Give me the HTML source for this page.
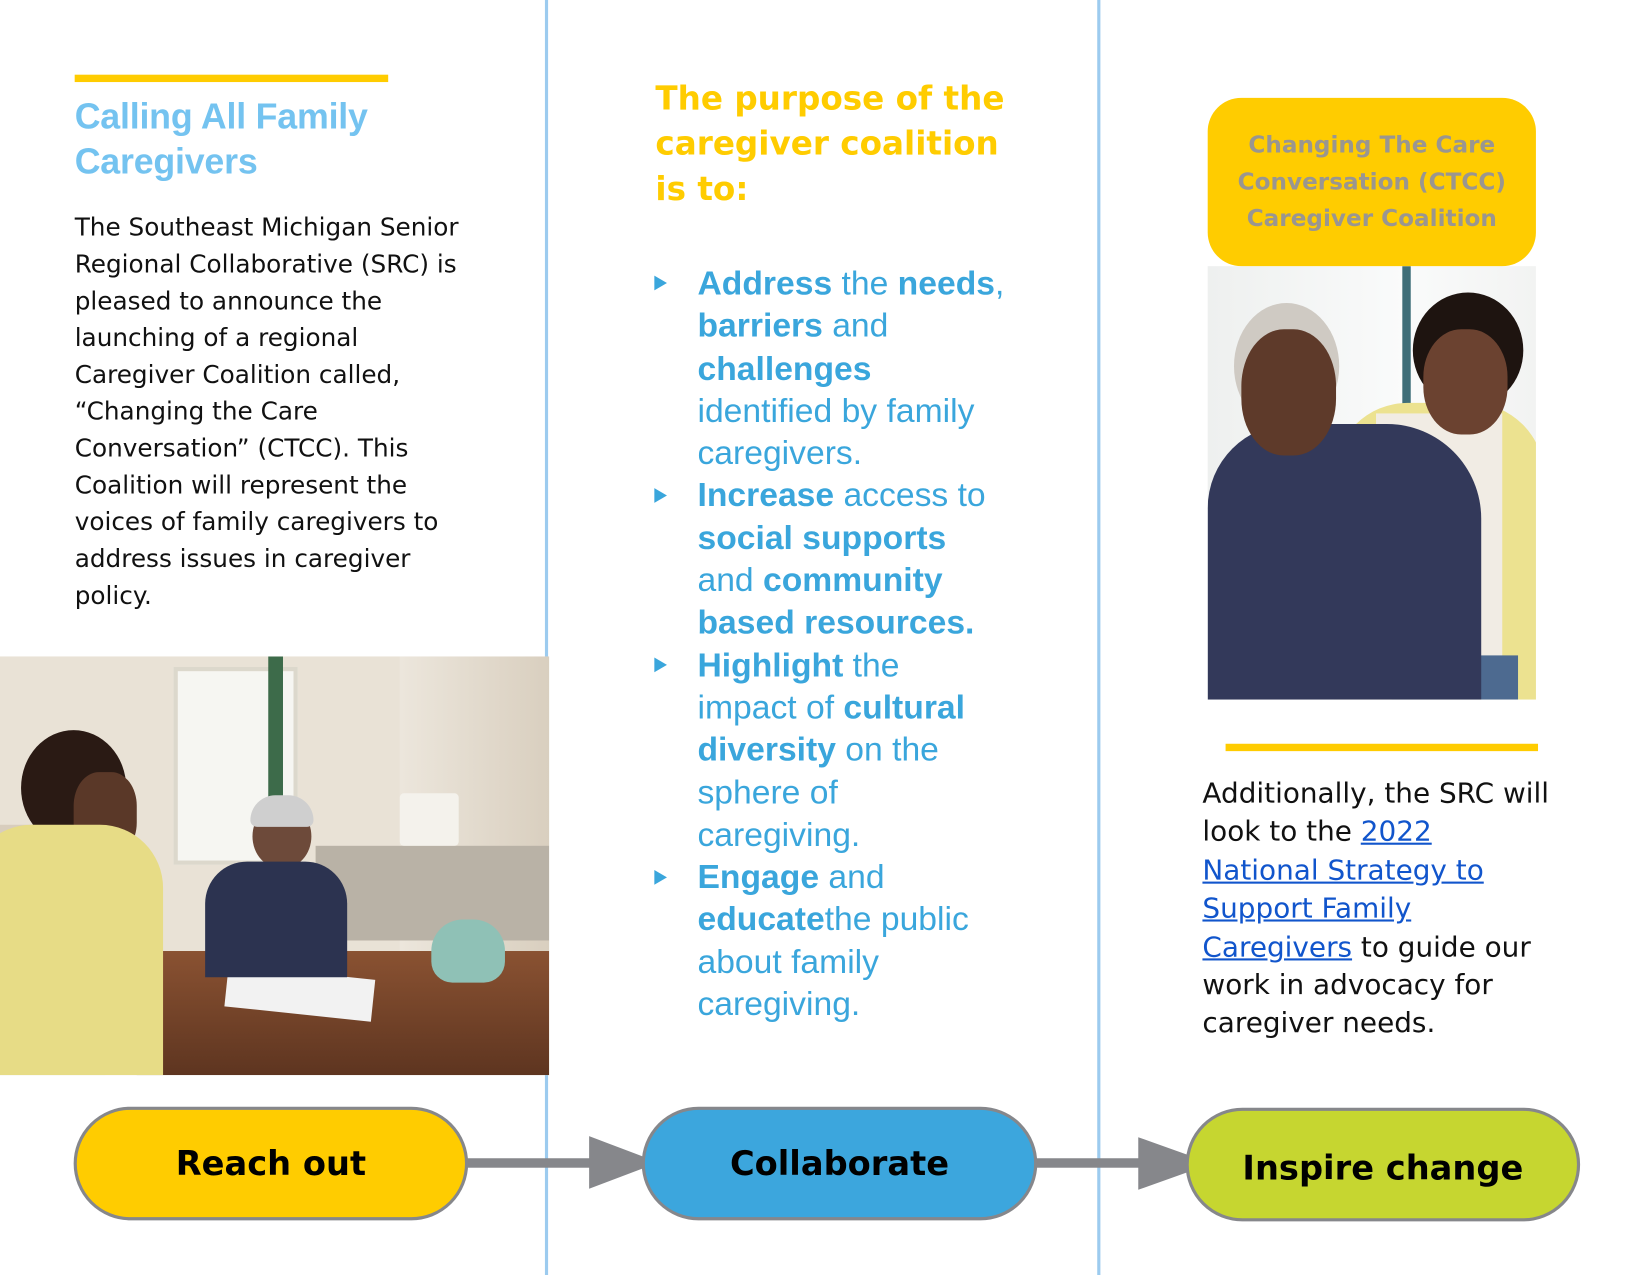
<!DOCTYPE html>
<html><head><meta charset="utf-8"><style>
html,body{margin:0;padding:0;background:#fff;width:1650px;height:1275px;overflow:hidden}
#w{position:absolute;left:0;top:0;width:1560px;height:1212px;transform:scale(1.052,1.052);transform-origin:0 0}
.a{position:absolute}
.vl{position:absolute;top:0;width:3px;height:1212px;background:#9ccbef}
.body{font-family:"DejaVu Sans",sans-serif;font-size:23.5px;line-height:35px;color:#111;white-space:nowrap}
.bl{font-family:"Liberation Sans",Arial,sans-serif;font-size:32px;line-height:40.3px;color:#3aa6dc;white-space:nowrap}
.bl b{font-weight:bold}
.tri{position:absolute;width:0;height:0;border-top:7px solid transparent;border-bottom:7px solid transparent;border-left:12px solid #3aa6dc}
.pill{position:absolute;border:3px solid #86878b;border-radius:54px;box-sizing:border-box;display:flex;align-items:center;justify-content:center;font-family:"DejaVu Sans",sans-serif;font-weight:bold;font-size:32px;color:#000}
a{color:#1155cc;text-decoration:underline}
</style></head><body><div id="w">
<div class="vl" style="left:518px"></div>
<div class="vl" style="left:1043px"></div>

<div class="a" style="left:71px;top:71px;width:298px;height:7px;background:#ffcc00"></div>
<div class="a" style="left:71px;top:90px;font-family:'Liberation Sans',sans-serif;font-weight:bold;font-size:34px;line-height:43px;color:#74c3f0;white-space:nowrap;letter-spacing:-0.2px">Calling All Family<br>Caregivers</div>
<div class="a body" style="left:71px;top:199px">The Southeast Michigan Senior<br>Regional Collaborative (SRC) is<br>pleased to announce the<br>launching of a regional<br>Caregiver Coalition called,<br>“Changing the Care<br>Conversation” (CTCC). This<br>Coalition will represent the<br>voices of family caregivers to<br>address issues in caregiver<br>policy.</div>

<div class="a" style="left:0;top:624px;width:522px;height:398px;overflow:hidden;background:#e9e2d6">
  <div class="a" style="left:165px;top:10px;width:110px;height:180px;background:#f6f6f2;border:4px solid #dcd8cc"></div>
  <div class="a" style="left:255px;top:0;width:14px;height:200px;background:#3d6b4a"></div>
  <div class="a" style="left:380px;top:0;width:142px;height:398px;background:linear-gradient(90deg,#ece6dc,#d9cfbf)"></div>
  <div class="a" style="left:300px;top:180px;width:222px;height:90px;background:#b9b2a6"></div>
  <div class="a" style="left:380px;top:130px;width:56px;height:50px;background:#f4f2ec;border-radius:4px"></div>
  <div class="a" style="left:0;top:160px;width:100px;height:238px;background:#d8cdbd"></div>
  <div class="a" style="left:130px;top:280px;width:392px;height:118px;background:linear-gradient(180deg,#8a5232,#5e3520)"></div>
  <div class="a" style="left:215px;top:300px;width:140px;height:40px;background:#f2f2f2;transform:rotate(6deg)"></div>
  <div class="a" style="left:240px;top:140px;width:56px;height:62px;background:#6d4a3a;border-radius:50%"></div>
  <div class="a" style="left:238px;top:132px;width:60px;height:30px;background:#cfcfcf;border-radius:30px 30px 8px 8px"></div>
  <div class="a" style="left:195px;top:195px;width:135px;height:110px;background:#2c3350;border-radius:40px 40px 0 0"></div>
  <div class="a" style="left:410px;top:250px;width:70px;height:60px;background:#8fc1b6;border-radius:30px 30px 20px 20px"></div>
  <div class="a" style="left:20px;top:70px;width:100px;height:110px;background:#2a1a14;border-radius:50%"></div>
  <div class="a" style="left:70px;top:110px;width:60px;height:80px;background:#5a3828;border-radius:40%"></div>
  <div class="a" style="left:-30px;top:160px;width:185px;height:238px;background:#e7dc86;border-radius:60px 60px 0 0"></div>
</div>

<div class="a" style="left:623px;top:73px;font-family:'DejaVu Sans',sans-serif;font-weight:bold;font-size:31px;line-height:43px;color:#ffcc00;white-space:nowrap">The purpose of the<br>caregiver coalition<br>is to:</div>
<div class="tri" style="left:622px;top:262px"></div>
<div class="tri" style="left:622px;top:464px"></div>
<div class="tri" style="left:622px;top:625px"></div>
<div class="tri" style="left:622px;top:827px"></div>
<div class="a bl" style="left:663px;top:249px"><b>Address</b> the <b>needs</b>,<br><b>barriers</b> and<br><b>challenges</b><br>identified by family<br>caregivers.<br><b>Increase</b> access to<br><b>social supports</b><br>and <b>community</b><br><b>based resources.</b><br><b>Highlight</b> the<br>impact of <b>cultural</b><br><b>diversity</b> on the<br>sphere of<br>caregiving.<br><b>Engage</b> and<br><b>educate</b>the public<br>about family<br>caregiving.</div>

<div class="a" style="left:1148px;top:253px;width:312px;height:412px;overflow:hidden;background:linear-gradient(90deg,#eef0ef,#fafbfb 60%,#f2f3f2)">
  <div class="a" style="left:185px;top:0;width:8px;height:150px;background:#3f6e78"></div>
  <div class="a" style="left:120px;top:130px;width:200px;height:282px;background:#ece290;border-radius:70px 70px 0 0"></div>
  <div class="a" style="left:160px;top:140px;width:120px;height:272px;background:#f1ece4"></div>
  <div class="a" style="left:195px;top:25px;width:105px;height:110px;background:#1e1410;border-radius:50%"></div>
  <div class="a" style="left:205px;top:60px;width:80px;height:100px;background:#6b4230;border-radius:45%"></div>
  <div class="a" style="left:175px;top:370px;width:120px;height:42px;background:#4d6a90"></div>
  <div class="a" style="left:0;top:150px;width:260px;height:262px;background:#33395a;border-radius:80px 90px 0 0"></div>
  <div class="a" style="left:25px;top:35px;width:100px;height:120px;background:#cfcac3;border-radius:50%"></div>
  <div class="a" style="left:32px;top:60px;width:90px;height:120px;background:#5e3a2a;border-radius:45%"></div>
</div>
<div class="a" style="left:1148px;top:93px;width:312px;height:160px;background:#ffcc00;border-radius:32px;display:flex;align-items:center;justify-content:center;text-align:center;font-family:'DejaVu Sans',sans-serif;font-weight:bold;font-size:22px;line-height:35px;color:#9a9690;white-space:nowrap">Changing The Care<br>Conversation (CTCC)<br>Caregiver Coalition</div>
<div class="a" style="left:1165px;top:707px;width:297px;height:7px;background:#ffcc00"></div>
<div class="a body" style="left:1143px;top:737px;font-size:26.5px;line-height:36.4px">Additionally, the SRC will<br>look to the <a>2022</a><br><a>National Strategy to</a><br><a>Support Family</a><br><a>Caregivers</a> to guide our<br>work in advocacy for<br>caregiver needs.</div>

<svg class="a" style="left:0;top:0" width="1560" height="1212">
  <rect x="440" y="1101" width="130" height="9" fill="#86878b"/>
  <polygon points="560,1080 626,1105 560,1130" fill="#86878b"/>
  <rect x="982" y="1101" width="110" height="9" fill="#86878b"/>
  <polygon points="1082,1081 1152,1106 1082,1131" fill="#86878b"/>
</svg>
<div class="pill" style="left:70px;top:1052px;width:375px;height:108px;background:#ffcc00">Reach out</div>
<div class="pill" style="left:610px;top:1052px;width:376px;height:108px;background:#3ca6dd">Collaborate</div>
<div class="pill" style="left:1127px;top:1053px;width:375px;height:108px;background:#c6d630;padding-top:6px">Inspire change</div>
</div></body></html>
